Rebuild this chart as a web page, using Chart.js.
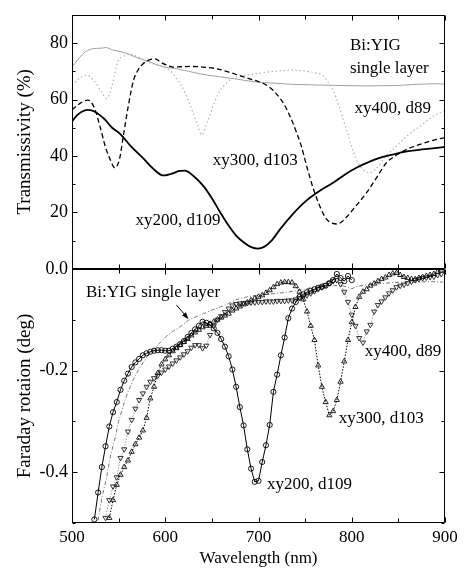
<!DOCTYPE html>
<html>
<head>
<meta charset="utf-8">
<title>Bi:YIG transmissivity and Faraday rotation</title>
<script src="https://cdn.jsdelivr.net/npm/chart.js@4.4.1/dist/chart.umd.min.js"></script>
<style>
    html, body { margin: 0; padding: 0; background: #fff; }
    #chart { display: block; }
</style>
</head>
<body>
<canvas id="chart" width="465" height="569"></canvas>
<script>
/* --- DATA --- */

// Axis ticks
const xTicks = [500, 600, 700, 800, 900];
const xMinorTicks = [550, 650, 750, 850];
const trTicks = [20, 40, 60, 80];
const trMinorTicks = [10, 30, 50, 70, 90];
const frTicks = [-0.4, -0.2, 0];
const frMinorTicks = [-0.5, -0.3, -0.1];

// Top panel: transmissivity (%)
const trWl200 = [500,505,510,517,525,535,543,551,563,576,587,598,608,614,621,630,641,650,659,667,676,685,693,699,706,714,723,737,751,765,780,792,805,818,830,845,859,875,889,900];
const trVal200 = [52.2,54.3,55.6,56.3,55.6,53.0,50.0,48.0,43.5,39.3,35.5,33.1,33.8,34.6,34.8,33.0,29.3,25.0,20.0,15.8,11.8,9.2,7.6,7.2,7.8,10.0,14.0,19.5,24.1,27.5,30.5,33.3,35.8,37.8,39.3,40.6,41.6,42.3,42.8,43.2];

const trWl300 = [500,508,517,524,530,536,541,546,551,555,560,566,571,576,583,589,596,603,609,617,626,640,655,670,684,701,710,719,727,734,740,746,752,759,766,773,779,784,789,794,805,816,827,837,849,862,875,889,900];
const trVal300 = [56.3,58.5,59.8,57.0,50.5,43.0,38.7,35.8,39.0,47.0,57.0,66.8,70.5,72.6,74.0,74.4,73.0,72.0,71.5,71.6,71.7,71.5,70.9,69.5,68.0,66.2,64.8,62.1,58.5,53.9,49.0,43.4,36.0,28.2,22.0,17.6,16.2,15.9,16.6,18.2,22.5,27.0,32.5,37.5,40.5,42.8,44.3,45.7,46.5];

const trWl400 = [500,508,516,524,531,537,543,549,556,562,570,580,590,598,605,612,618,623,629,634,639,645,651,656,662,670,680,690,700,712,725,735,744,752,760,769,775,780,786,791,796,801,806,812,819,826,837,848,859,873,887,900];
const trVal400 = [65.0,67.5,68.5,66.5,63.0,60.4,65.0,73.2,75.5,76.1,75.2,73.5,72.3,71.5,70.3,67.5,64.5,61.0,56.0,51.6,47.5,52.0,57.4,61.5,64.5,67.0,68.3,68.8,69.2,69.8,70.2,70.4,70.3,70.0,69.5,68.5,66.0,63.3,58.0,52.7,47.5,42.2,38.0,35.2,34.0,35.5,40.0,43.5,47.0,50.5,54.0,56.0];

const trWlSingle = [500,506,513,520,526,532,536,545,555,570,584,598,612,625,637,655,673,698,716,734,757,780,798,816,835,852,869,880,891,900];
const trValSingle = [71.5,74.0,76.5,77.8,78.1,78.2,78.4,77.4,76.7,74.8,73.2,71.6,70.9,70.0,69.1,68.2,67.4,66.2,65.8,65.4,65.2,65.0,64.9,64.8,64.9,65.0,65.4,65.5,65.6,65.4];

// Bottom panel: Faraday rotation (deg)
const frWl200 = [524,528,532,536,540,544,548,552,556,560,564,568,572,576,580,584,588,592,596,600,604,608,612,616,620,624,628,632,636,640,644,648,652,656,660,664,668,672,676,680,684,688,692,696,700,704,708,712,716,720,724,728,732,736,740,744,748,752,756,760,764,768,772,776,780,784,788,792,796,800];
const frVal200 = [-0.493,-0.440,-0.390,-0.349,-0.310,-0.282,-0.262,-0.238,-0.220,-0.206,-0.193,-0.184,-0.177,-0.170,-0.166,-0.163,-0.161,-0.160,-0.160,-0.161,-0.161,-0.157,-0.153,-0.148,-0.142,-0.134,-0.126,-0.119,-0.112,-0.104,-0.106,-0.110,-0.117,-0.126,-0.138,-0.153,-0.172,-0.198,-0.232,-0.272,-0.308,-0.355,-0.393,-0.419,-0.417,-0.380,-0.347,-0.307,-0.242,-0.208,-0.170,-0.135,-0.097,-0.078,-0.065,-0.055,-0.050,-0.046,-0.043,-0.040,-0.037,-0.035,-0.033,-0.028,-0.022,-0.010,-0.018,-0.024,-0.014,-0.022];

const frWl300 = [540,544,548,552,556,560,564,568,572,576,580,584,588,592,596,600,604,608,612,616,620,624,628,632,636,640,644,648,652,656,660,664,668,672,676,680,684,688,692,696,700,704,708,712,716,720,724,728,732,736,740,744,748,752,756,760,764,768,772,776,780,784,788,792,796,800,804,808,812,816,820,824,828,832,836,840,844,848,852,856,860,864,868,872,876,880,884,888,892,896];
const frVal300 = [-0.490,-0.455,-0.425,-0.405,-0.390,-0.377,-0.360,-0.345,-0.332,-0.318,-0.293,-0.255,-0.232,-0.205,-0.188,-0.178,-0.170,-0.162,-0.156,-0.150,-0.144,-0.138,-0.131,-0.125,-0.120,-0.115,-0.112,-0.108,-0.104,-0.100,-0.096,-0.092,-0.088,-0.082,-0.078,-0.074,-0.070,-0.066,-0.062,-0.058,-0.055,-0.052,-0.047,-0.042,-0.036,-0.030,-0.027,-0.026,-0.026,-0.027,-0.034,-0.045,-0.060,-0.084,-0.112,-0.140,-0.190,-0.232,-0.262,-0.288,-0.280,-0.258,-0.222,-0.182,-0.140,-0.105,-0.075,-0.055,-0.045,-0.040,-0.033,-0.029,-0.024,-0.020,-0.017,-0.012,-0.009,-0.008,-0.012,-0.016,-0.018,-0.020,-0.020,-0.018,-0.016,-0.014,-0.012,-0.010,-0.006,-0.003];

const frWl400 = [536,540,544,548,552,556,560,564,568,572,576,580,584,588,592,596,600,604,608,612,616,620,624,628,632,636,640,644,648,652,656,660,664,668,672,676,680,684,688,692,696,700,704,708,712,716,720,724,728,732,736,740,744,748,752,756,760,764,768,772,776,780,784,788,792,796,800,804,808,812,816,820,824,828,832,836,840,844,848,852,856,860,864,868,872,876,880,884,888,892,896];
const frVal400 = [-0.490,-0.455,-0.428,-0.410,-0.372,-0.355,-0.320,-0.297,-0.275,-0.258,-0.245,-0.232,-0.222,-0.215,-0.210,-0.204,-0.198,-0.192,-0.186,-0.180,-0.174,-0.168,-0.162,-0.155,-0.150,-0.150,-0.156,-0.151,-0.130,-0.112,-0.100,-0.093,-0.085,-0.078,-0.072,-0.069,-0.068,-0.067,-0.067,-0.066,-0.066,-0.065,-0.065,-0.064,-0.064,-0.064,-0.063,-0.063,-0.063,-0.062,-0.062,-0.060,-0.057,-0.055,-0.052,-0.048,-0.044,-0.040,-0.036,-0.032,-0.028,-0.024,-0.022,-0.030,-0.045,-0.065,-0.090,-0.112,-0.136,-0.145,-0.123,-0.110,-0.084,-0.071,-0.064,-0.056,-0.048,-0.042,-0.036,-0.033,-0.031,-0.028,-0.025,-0.022,-0.020,-0.018,-0.017,-0.016,-0.015,-0.012,-0.010];

const frWlSingle = [528,532,537,541,546,550,555,560,566,571,576,581,587,594,601,608,616,625,633,641,650,659,668,677,688,698,710,720,730,744,756,767,780,790,795,800,805,816,830,852,870,885,898];
const frValSingle = [-0.495,-0.450,-0.412,-0.370,-0.334,-0.300,-0.269,-0.242,-0.217,-0.200,-0.185,-0.172,-0.159,-0.146,-0.133,-0.123,-0.114,-0.101,-0.094,-0.088,-0.081,-0.075,-0.068,-0.060,-0.055,-0.052,-0.050,-0.048,-0.046,-0.042,-0.037,-0.034,-0.033,-0.033,-0.036,-0.039,-0.035,-0.031,-0.029,-0.026,-0.026,-0.025,-0.026];

// Text notes, placed in data units (wavelength, value)
const topNotes = [
    { text: 'Bi:YIG', x: 798, y: 77.6 },
    { text: 'single layer', x: 798, y: 69.3 },
    { text: 'xy400, d89', x: 803, y: 55.1 },
    { text: 'xy300, d103', x: 651, y: 36.9 },
    { text: 'xy200, d109', x: 568, y: 15.6 }
];
const bottomNotes = [
    { text: 'Bi:YIG single layer', x: 515, y: -0.055 },
    { text: 'xy400, d89', x: 814, y: -0.172 },
    { text: 'xy300, d103', x: 786, y: -0.303 },
    { text: 'xy200, d109', x: 709, y: -0.433 }
];
const arrowTail = { x: 612, y: -0.071 };
const arrowHead = { x: 625, y: -0.099 };

/* --- CHART --- */

const SERIF = "'Liberation Serif', 'Times New Roman', serif";
Chart.defaults.font.family = SERIF;
Chart.defaults.color = '#000';

function toPoints(xs, ys) {
    return xs.map((x, i) => ({ x: x, y: ys[i] }));
}

// Frame around both panels with inward ticks on all four sides
const panelFrame = {
    id: 'panelFrame',
    afterDatasetsDraw(chart) {
        const { ctx, chartArea, scales } = chart;
        const x = scales.x;
        const L = Math.round(chartArea.left) + 0.5;
        const R = Math.round(chartArea.right) - 0.5;
        const panels = [
            { s: scales.yT, major: trTicks.concat([0]), minor: trMinorTicks },
            { s: scales.yB, major: frTicks, minor: frMinorTicks }
        ];
        ctx.save();
        ctx.strokeStyle = '#000';
        ctx.lineWidth = 1;
        ctx.beginPath();
        panels.forEach(p => {
            const T = Math.round(p.s.top) + 0.5;
            const B = Math.round(p.s.bottom) - 0.5;
            ctx.rect(L, T, R - L, B - T);
            const yTick = (v, len) => {
                const py = Math.round(p.s.getPixelForValue(v)) + 0.5;
                ctx.moveTo(L, py); ctx.lineTo(L + len, py);
                ctx.moveTo(R, py); ctx.lineTo(R - len, py);
            };
            const xTick = (v, len) => {
                const px = Math.round(x.getPixelForValue(v)) + 0.5;
                ctx.moveTo(px, T); ctx.lineTo(px, T + len);
                ctx.moveTo(px, B); ctx.lineTo(px, B - len);
            };
            p.major.forEach(v => yTick(v, 5));
            p.minor.forEach(v => yTick(v, 3));
            xTicks.forEach(v => xTick(v, 5));
            xMinorTicks.forEach(v => xTick(v, 4));
        });
        ctx.stroke();
        ctx.restore();
    }
};

// Series names and the arrow
const notesPlugin = {
    id: 'notes',
    afterDraw(chart) {
        const { ctx, scales } = chart;
        const x = scales.x;
        ctx.save();
        ctx.fillStyle = '#000';
        ctx.font = '17px ' + SERIF;
        ctx.textAlign = 'left';
        ctx.textBaseline = 'alphabetic';
        topNotes.forEach(n => ctx.fillText(n.text, x.getPixelForValue(n.x), scales.yT.getPixelForValue(n.y)));
        bottomNotes.forEach(n => ctx.fillText(n.text, x.getPixelForValue(n.x), scales.yB.getPixelForValue(n.y)));

        const x0 = x.getPixelForValue(arrowTail.x), y0 = scales.yB.getPixelForValue(arrowTail.y);
        const x1 = x.getPixelForValue(arrowHead.x), y1 = scales.yB.getPixelForValue(arrowHead.y);
        const ang = Math.atan2(y1 - y0, x1 - x0);
        ctx.strokeStyle = '#000';
        ctx.lineWidth = 1;
        ctx.beginPath();
        ctx.moveTo(x0, y0);
        ctx.lineTo(x1 - 5 * Math.cos(ang), y1 - 5 * Math.sin(ang));
        ctx.stroke();
        ctx.beginPath();
        ctx.moveTo(x1, y1);
        ctx.lineTo(x1 - 7 * Math.cos(ang) + 2.5 * Math.sin(ang), y1 - 7 * Math.sin(ang) - 2.5 * Math.cos(ang));
        ctx.lineTo(x1 - 7 * Math.cos(ang) - 2.5 * Math.sin(ang), y1 - 7 * Math.sin(ang) + 2.5 * Math.cos(ang));
        ctx.closePath();
        ctx.fill();
        ctx.restore();
    }
};

const lineTop = { yAxisID: 'yT', pointRadius: 0, fill: false, cubicInterpolationMode: 'monotone' };
const lineBottom = { yAxisID: 'yB', fill: false, tension: 0, pointBorderWidth: 0.9, pointBackgroundColor: 'rgba(255,255,255,0)' };

new Chart(document.getElementById('chart'), {
    type: 'line',
    data: {
        datasets: [
            { ...lineTop, label: 'xy200, d109', data: toPoints(trWl200, trVal200), borderColor: '#000', borderWidth: 1.8 },
            { ...lineTop, label: 'xy300, d103', data: toPoints(trWl300, trVal300), borderColor: '#000', borderWidth: 1.3, borderDash: [5, 3] },
            { ...lineTop, label: 'xy400, d89', data: toPoints(trWl400, trVal400), borderColor: '#b4b4b4', borderWidth: 1.2, borderDash: [1.5, 2.5] },
            { ...lineTop, label: 'Bi:YIG single layer', data: toPoints(trWlSingle, trValSingle), borderColor: '#a0a0a0', borderWidth: 1 },

            { ...lineBottom, label: 'xy200, d109', data: toPoints(frWl200, frVal200), borderColor: '#000', borderWidth: 1,
              pointStyle: 'circle', pointRadius: 2.6, pointBorderColor: '#000' },
            { ...lineBottom, label: 'xy300, d103', data: toPoints(frWl300, frVal300), borderColor: '#000', borderWidth: 1, borderDash: [1.5, 1.5],
              pointStyle: 'triangle', pointRadius: 3, pointBorderColor: '#111' },
            { ...lineBottom, label: 'xy400, d89', data: toPoints(frWl400, frVal400), borderColor: '#999', borderWidth: 1, borderDash: [1.5, 1.5],
              pointStyle: 'triangle', pointRotation: 180, pointRadius: 3, pointBorderColor: '#222' },
            { ...lineBottom, label: 'Bi:YIG single layer', data: toPoints(frWlSingle, frValSingle), borderColor: '#777', borderWidth: 1,
              borderDash: [4, 2, 1, 2], pointRadius: 0 }
        ]
    },
    options: {
        responsive: false,
        animation: false,
        layout: { padding: { top: 11, right: 20, left: 0, bottom: 0 } },
        plugins: {
            legend: { display: false },
            tooltip: { enabled: false }
        },
        scales: {
            x: {
                type: 'linear',
                min: 500,
                max: 900,
                afterBuildTicks: s => { s.ticks = xTicks.map(v => ({ value: v })); },
                afterFit: s => { s.height = 46; },
                grid: { display: false, drawTicks: false },
                border: { display: false },
                ticks: { color: '#000', font: { size: 17 }, padding: 4, maxRotation: 0 },
                title: { display: true, text: 'Wavelength (nm)', color: '#000', font: { size: 17 }, padding: 0 }
            },
            yB: {
                type: 'linear',
                position: 'left',
                stack: 'panels',
                stackWeight: 1,
                min: -0.5,
                max: 0,
                afterBuildTicks: s => { s.ticks = frTicks.map(v => ({ value: v })); },
                afterFit: s => { s.width = 72; },
                grid: { display: false, drawTicks: false },
                border: { display: false },
                ticks: { color: '#000', font: { size: 18 }, padding: 4, callback: v => Number(v).toFixed(1) },
                title: { display: true, text: 'Faraday rotaion (deg)', color: '#000', font: { size: 19 }, padding: { top: 14, bottom: 0 } }
            },
            yT: {
                type: 'linear',
                position: 'left',
                stack: 'panels',
                stackWeight: 1,
                min: 0,
                max: 90,
                afterBuildTicks: s => { s.ticks = trTicks.map(v => ({ value: v })); },
                afterFit: s => { s.width = 72; },
                grid: { display: false, drawTicks: false },
                border: { display: false },
                ticks: { color: '#000', font: { size: 18 }, padding: 4 },
                title: { display: true, text: 'Transmissivity (%)', color: '#000', font: { size: 19 }, padding: { top: 14, bottom: 0 } }
            }
        }
    },
    plugins: [panelFrame, notesPlugin]
});
</script>
</body>
</html>
